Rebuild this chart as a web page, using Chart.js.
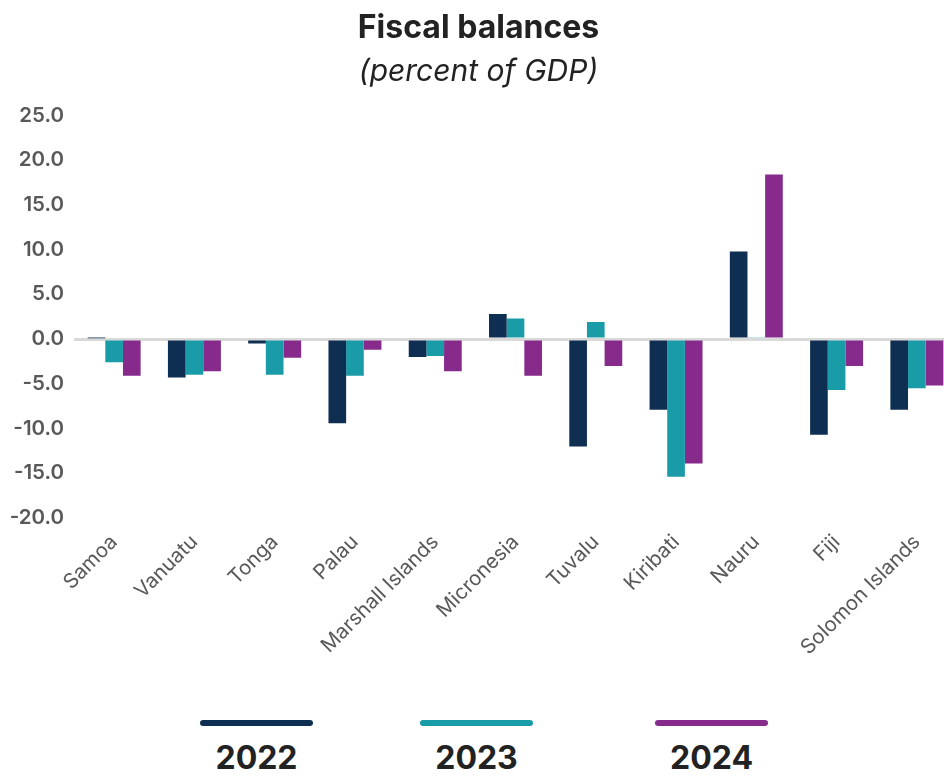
<!DOCTYPE html>
<html>
<head>
<meta charset="utf-8">
<script src="https://cdn.jsdelivr.net/npm/chart.js@4.4.1/dist/chart.umd.min.js"></script>
<style>
  body { margin: 0; overflow: hidden; background: #fff; font-family: Inter, sans-serif; }
  #wrap { position: relative; width: 960px; height: 690px; }
  #legend { position: absolute; top: 690px; left: 0; width: 944px; height: 86px; }
  .item { position: absolute; top: 30px; width: 113px; text-align: center; }
  .swatch { height: 6px; border-radius: 3px; }
  .lbl { margin-top: 14px; font-size: 32px; font-weight: 700; color: #222; line-height: 36px; }
</style>
</head>
<body>
<div id="wrap"><canvas id="myChart"></canvas></div>
<div id="legend"></div>
<script>
const countries = [
  "Samoa",
  "Vanuatu",
  "Tonga",
  "Palau",
  "Marshall Islands",
  "Micronesia",
  "Tuvalu",
  "Kiribati",
  "Nauru",
  "Fiji",
  "Solomon Islands",
];

const years = ["2022", "2023", "2024"];

const values2022 = [0.1, -4.3, -0.5, -9.4, -2.0, 2.8, -12.0, -7.9, 9.8, -10.7, -7.9];
const values2023 = [-2.6, -4.0, -4.0, -4.1, -1.9, 2.3, 1.9, -15.4, 0.2, -5.7, -5.5];
const values2024 = [-4.1, -3.6, -2.1, -1.2, -3.6, -4.1, -3.0, -13.9, 18.4, -3.0, -5.2];

const colors = ["#0f2f52", "#1a9ba8", "#862b8c"];

const data = {
  labels: countries,
  datasets: [
    { label: years[0], data: values2022, backgroundColor: colors[0] },
    { label: years[1], data: values2023, backgroundColor: colors[1] },
    { label: years[2], data: values2024, backgroundColor: colors[2] },
  ],
};

const config = {
  type: "bar",
  data: data,
  options: {
    responsive: false,
    animation: false,
    layout: { padding: { left: 0, right: 3, top: 0, bottom: 0 } },
    datasets: {
      bar: { categoryPercentage: 0.66, barPercentage: 1 },
    },
    plugins: {
      legend: { display: false },
      tooltip: { enabled: false },
      title: {
        display: true,
        text: "Fiscal balances",
        color: "#222",
        font: { family: "Inter", size: 32, weight: "bold" },
        padding: { top: 9, bottom: 0 },
      },
      subtitle: {
        display: true,
        text: "(percent of GDP)",
        color: "#222",
        font: { family: "Inter", size: 30, style: "italic" },
        padding: { top: 7, bottom: 25 },
      },
    },
    scales: {
      x: {
        grid: { display: false },
        border: { display: false },
        ticks: {
          color: "#595959",
          font: { family: "Inter", size: 20.5 },
          maxRotation: 45,
          minRotation: 45,
          padding: 4,
        },
        afterFit(scale) {
          scale.height = 172;
        },
      },
      y: {
        min: -20,
        max: 25,
        border: { display: false },
        grid: {
          drawTicks: false,
          color: (c) => (c.tick.value === 0 ? "#d9d9d9" : "rgba(0,0,0,0)"),
          lineWidth: 3,
        },
        ticks: {
          stepSize: 5,
          color: "#595959",
          padding: 10,
          font: { family: "Inter", size: 20.5, weight: "600" },
          callback: (v) => Number(v).toFixed(1),
        },
        afterFit(scale) {
          scale.width = 74;
        },
      },
    },
  },
};

const canvas = document.getElementById("myChart");
canvas.width = 960;
canvas.height = 690;
const myChart = new Chart(canvas, config);

// legend below the chart
const legendPos = [200, 420, 655];
const legend = document.getElementById("legend");
years.forEach((y, i) => {
  const item = document.createElement("div");
  item.className = "item";
  item.style.left = legendPos[i] + "px";
  item.innerHTML =
    '<div class="swatch" style="background:' + colors[i] + '"></div>' +
    '<div class="lbl">' + y + "</div>";
  legend.appendChild(item);
});
</script>
</body>
</html>
